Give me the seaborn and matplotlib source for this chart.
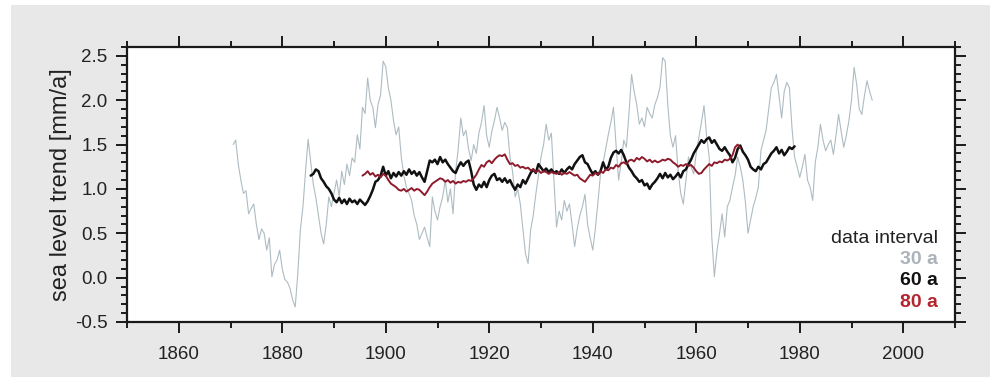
import numpy as np
import pandas as pd
import matplotlib
matplotlib.use('Agg')
import matplotlib.pyplot as plt
import seaborn as sns
from matplotlib.patches import Rectangle
from matplotlib.ticker import MultipleLocator

sns.set_style('ticks')
plt.rcParams['font.family'] = ['Liberation Sans', 'DejaVu Sans']

# sea level trend [mm/a] in half year steps
years_30 = np.arange(1870.5, 1994.25, 0.5)
trend_30 = [1.50,
    1.55, 1.28, 1.10, 0.95, 0.98, 0.72, 0.78, 0.83, 0.60, 0.43,   # 1871-1875
    0.55, 0.50, 0.31, 0.45, 0.01, 0.15, 0.20, 0.31, 0.10, -0.02,  # 1876-1880
    -0.05, -0.12, -0.25, -0.33, 0.04, 0.54, 0.80, 1.20, 1.56, 1.30,  # 1881-1885
    1.05, 0.90, 0.70, 0.50, 0.38, 0.60, 0.91, 0.80, 0.95, 1.10,   # 1886-1890
    0.92, 1.20, 1.05, 1.28, 1.15, 1.35, 1.30, 1.61, 1.45, 1.92,   # 1891-1895
    1.85, 2.25, 2.00, 1.92, 1.69, 1.95, 2.06, 2.44, 2.38, 2.14,   # 1896-1900
    2.00, 1.77, 1.61, 1.70, 1.36, 1.15, 1.02, 0.95, 0.87, 0.70,   # 1901-1905
    0.60, 0.43, 0.50, 0.57, 0.45, 0.35, 0.91, 0.75, 0.65, 0.80,   # 1906-1910
    0.91, 1.10, 0.85, 1.00, 0.72, 1.20, 1.45, 1.80, 1.60, 1.66,   # 1911-1915
    1.45, 1.32, 1.50, 1.40, 1.63, 1.75, 1.94, 1.60, 1.47, 1.65,   # 1916-1920
    1.77, 1.92, 1.80, 1.66, 1.75, 1.69, 1.36, 1.20, 0.91, 1.00,   # 1921-1925
    0.83, 0.55, 0.27, 0.16, 0.54, 0.70, 0.94, 1.15, 1.36, 1.50,   # 1926-1930
    1.73, 1.55, 1.63, 1.10, 0.57, 0.75, 0.65, 0.87, 0.75, 0.83,   # 1931-1935
    0.60, 0.35, 0.55, 0.70, 0.80, 0.94, 0.60, 0.45, 0.31, 0.55,   # 1936-1940
    0.85, 1.17, 1.30, 1.45, 1.61, 1.75, 1.92, 1.50, 1.10, 1.30,   # 1941-1945
    1.55, 1.47, 1.85, 2.29, 2.10, 1.95, 1.73, 1.80, 1.70, 1.92,   # 1946-1950
    1.85, 1.80, 1.95, 2.03, 2.15, 2.48, 2.44, 1.95, 1.60, 1.47,   # 1951-1955
    1.60, 1.20, 0.95, 0.83, 1.10, 1.36, 1.25, 1.17, 1.40, 1.58,   # 1956-1960
    1.75, 1.94, 1.60, 1.36, 0.46, 0.01, 0.30, 0.50, 0.72, 0.46,   # 1961-1965
    0.80, 0.87, 1.02, 1.15, 1.36, 1.25, 1.10, 0.85, 0.50, 0.65,   # 1966-1970
    0.80, 0.90, 1.02, 1.43, 1.55, 1.66, 1.90, 2.14, 2.20, 2.29,   # 1971-1975
    2.05, 1.80, 2.10, 2.20, 2.14, 1.69, 1.36, 1.25, 1.13, 1.25,   # 1976-1980
    1.39, 1.10, 1.02, 0.87, 1.30, 1.47, 1.73, 1.55, 1.43, 1.50,   # 1981-1985
    1.55, 1.39, 1.60, 1.84, 1.65, 1.47, 1.60, 1.77, 2.00, 2.37,   # 1986-1990
    2.18, 1.90, 1.84, 2.05, 2.22, 2.10,                           # 1991-1993
    2.00]

years_60 = np.arange(1885.5, 1979.25, 0.5)
trend_60 = [1.15,
    1.17, 1.22, 1.20, 1.12, 1.08, 1.03, 1.00, 0.95, 0.88, 0.85,   # 1886-1890
    0.90, 0.84, 0.88, 0.83, 0.89, 0.85, 0.87, 0.83, 0.88, 0.85,   # 1891-1895
    0.82, 0.86, 0.92, 0.99, 1.08, 1.10, 1.15, 1.25, 1.15, 1.20,   # 1896-1900
    1.12, 1.18, 1.14, 1.19, 1.15, 1.20, 1.16, 1.22, 1.17, 1.20,   # 1901-1905
    1.15, 1.19, 1.13, 1.08, 1.20, 1.32, 1.30, 1.33, 1.28, 1.36,   # 1906-1910
    1.30, 1.33, 1.28, 1.24, 1.20, 1.18, 1.25, 1.30, 1.26, 1.30,   # 1911-1915
    1.32, 1.20, 1.05, 0.99, 1.05, 1.02, 1.08, 1.02, 1.10, 1.15,   # 1916-1920
    1.17, 1.10, 1.12, 1.08, 1.12, 1.07, 1.10, 1.04, 0.99, 1.05,   # 1921-1925
    1.02, 1.10, 1.06, 1.12, 1.18, 1.22, 1.18, 1.28, 1.24, 1.20,   # 1926-1930
    1.23, 1.19, 1.22, 1.18, 1.20, 1.17, 1.22, 1.18, 1.22, 1.25,   # 1931-1935
    1.22, 1.28, 1.32, 1.36, 1.38, 1.30, 1.28, 1.22, 1.17, 1.20,   # 1936-1940
    1.16, 1.20, 1.30, 1.22, 1.25, 1.35, 1.41, 1.43, 1.40, 1.44,   # 1941-1945
    1.38, 1.30, 1.24, 1.20, 1.15, 1.12, 1.08, 1.10, 1.04, 1.06,   # 1946-1950
    1.00, 1.05, 1.08, 1.12, 1.17, 1.12, 1.18, 1.13, 1.16, 1.11,   # 1951-1955
    1.14, 1.18, 1.13, 1.20, 1.22, 1.28, 1.33, 1.40, 1.45, 1.50,   # 1956-1960
    1.55, 1.52, 1.56, 1.58, 1.52, 1.55, 1.50, 1.45, 1.43, 1.47,   # 1961-1965
    1.42, 1.38, 1.30, 1.35, 1.45, 1.49, 1.42, 1.38, 1.33, 1.25,   # 1966-1970
    1.22, 1.20, 1.25, 1.22, 1.28, 1.30, 1.35, 1.40, 1.43, 1.47,   # 1971-1975
    1.40, 1.44, 1.38, 1.42, 1.47, 1.45,                           # 1976-1978
    1.48]

years_80 = np.arange(1895.5, 1968.75, 0.5)
trend_80 = [1.15,
    1.17, 1.20, 1.16, 1.18, 1.14, 1.16, 1.13, 1.17, 1.15, 1.10,   # 1896-1900
    1.06, 1.04, 1.02, 0.99, 0.98, 1.00, 0.97, 0.99, 1.01, 0.98,   # 1901-1905
    1.00, 0.99, 0.96, 0.93, 0.97, 1.02, 1.06, 1.08, 1.10, 1.12,   # 1906-1910
    1.11, 1.08, 1.10, 1.07, 1.09, 1.06, 1.08, 1.07, 1.09, 1.08,   # 1911-1915
    1.10, 1.09, 1.12, 1.16, 1.22, 1.27, 1.25, 1.30, 1.32, 1.29,   # 1916-1920
    1.33, 1.36, 1.38, 1.37, 1.39, 1.33, 1.28, 1.29, 1.26, 1.27,   # 1921-1925
    1.24, 1.25, 1.23, 1.24, 1.21, 1.22, 1.19, 1.21, 1.18, 1.20,   # 1926-1930
    1.19, 1.17, 1.19, 1.18, 1.17, 1.19, 1.16, 1.18, 1.17, 1.19,   # 1931-1935
    1.17, 1.15, 1.16, 1.12, 1.10, 1.08, 1.12, 1.16, 1.15, 1.18,   # 1936-1940
    1.16, 1.20, 1.18, 1.22, 1.21, 1.24, 1.23, 1.27, 1.25, 1.29,   # 1941-1945
    1.30, 1.28, 1.32, 1.33, 1.31, 1.35, 1.33, 1.36, 1.34, 1.31,   # 1946-1950
    1.33, 1.30, 1.32, 1.30, 1.31, 1.33, 1.32, 1.34, 1.33, 1.30,   # 1951-1955
    1.28, 1.25, 1.27, 1.26, 1.28, 1.26, 1.27, 1.24, 1.20, 1.17,   # 1956-1960
    1.18, 1.22, 1.25, 1.28, 1.26, 1.30, 1.29, 1.31, 1.30, 1.33,   # 1961-1965
    1.32, 1.34, 1.38, 1.47, 1.50, 1.46]                           # 1966-1968

series = [
    ('30 a', years_30, trend_30, '#aebcc2', 0.8, '#aab2ba'),
    ('60 a', years_60, trend_60, '#111111', 1.8, '#111111'),
    ('80 a', years_80, trend_80, '#8e1b2c', 1.4, '#b3262f'),
]

fig = plt.figure(figsize=(9.9, 3.86), dpi=100, facecolor='white')
# grey panel behind the chart
fig.patches.append(Rectangle((11 / 990, 1 - 377 / 386), 979 / 990, 372 / 386,
                             transform=fig.transFigure, facecolor='#e8e8e8',
                             edgecolor='none', zorder=-1))

ax = fig.add_axes([127 / 990, 1 - 322 / 386, 828 / 990, 275 / 386])
ax.set_facecolor('white')

for name, yrs, vals, col, lw, _ in series:
    df = pd.DataFrame({'year': yrs, 'trend': vals})
    sns.lineplot(data=df, x='year', y='trend', color=col, lw=lw, ax=ax)

ax.set_xlim(1850, 2010)
ax.set_ylim(-0.5, 2.6)
ax.xaxis.set_major_locator(MultipleLocator(20))
ax.xaxis.set_minor_locator(MultipleLocator(10))
ax.yaxis.set_major_locator(MultipleLocator(0.5))
ax.yaxis.set_minor_locator(MultipleLocator(0.1))
ax.yaxis.set_major_formatter(matplotlib.ticker.FormatStrFormatter('%.1f'))

for s in ax.spines.values():
    s.set_visible(True)
    s.set_linewidth(1.6)
    s.set_color('#1a1a1a')

ax.tick_params(which='both', direction='out', top=True, right=True,
               color='#1a1a1a', width=1.4, labelsize=13.5, labelcolor='#222222')
ax.tick_params(which='major', length=8, pad=6)
ax.tick_params(which='minor', length=4)
ax.tick_params(axis='x', which='major', pad=9)

ax.set_xlabel('')
ax.set_ylabel('sea level trend [mm/a]', fontsize=17, color='#222222', labelpad=2)

# legend as coloured text in lower right
ax.text(0.979, 0.305, 'data interval', transform=ax.transAxes, ha='right',
        va='center', fontsize=14, color='#222222')
for i, (name, _, _, _, _, tcol) in enumerate(series):
    ax.text(0.979, 0.228 - i * 0.078, name, transform=ax.transAxes, ha='right',
            va='center', fontsize=14, color=tcol, fontweight='bold')

fig.savefig('out.png', dpi=100, facecolor=fig.get_facecolor())
